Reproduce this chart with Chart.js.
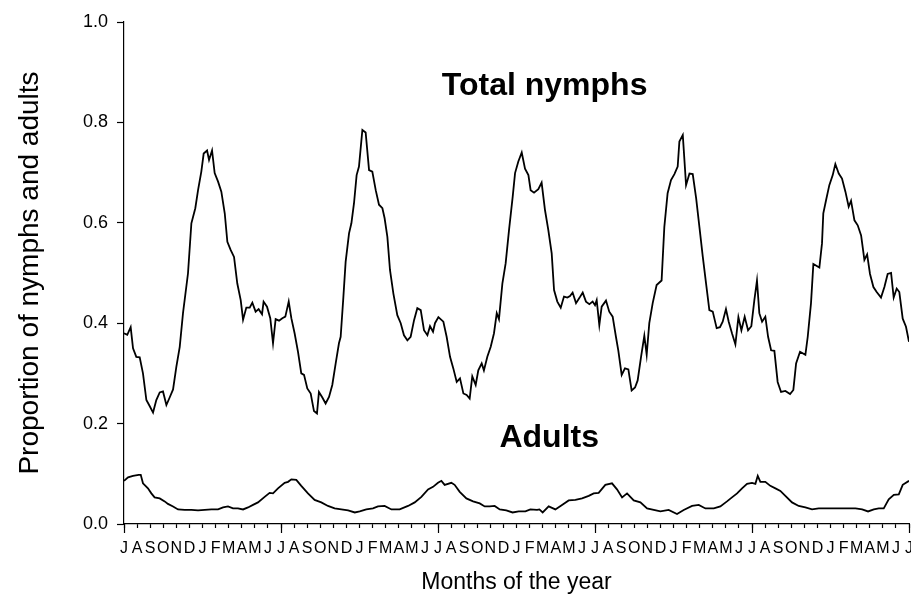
<!DOCTYPE html>
<html>
<head>
<meta charset="utf-8">
<script src="https://cdn.jsdelivr.net/npm/chart.js@4.4.1/dist/chart.umd.min.js"></script>
<style>
  html, body { margin: 0; padding: 0; background: #fff; }
  #wrap { width: 911px; height: 608px; }
</style>
</head>
<body>
<div id="wrap"><canvas id="myChart" width="911" height="608"></canvas></div>
<script>
// month labels along the x axis (July to July, 5 years)
const monthLabels = ['J','A','S','O','N','D','J','F','M','A','M','J',
                     'J','A','S','O','N','D','J','F','M','A','M','J',
                     'J','A','S','O','N','D','J','F','M','A','M','J',
                     'J','A','S','O','N','D','J','F','M','A','M','J',
                     'J','A','S','O','N','D','J','F','M','A','M','J','J'];
const yTicks = [0, 0.2, 0.4, 0.6, 0.8, 1.0];

// total nymphs (months since first July, proportion)
const nymphMonth = [0,0.25,0.51,0.69,0.94,1.2,1.45,1.71,1.96,2.22,2.47,2.73,2.98,3.24,3.49,3.75,4,4.26,4.51,4.89,
  5.15,5.45,5.66,5.91,6.09,6.35,6.5,6.73,6.93,7.19,7.44,7.7,7.9,8.15,8.41,8.66,8.92,9.1,9.35,9.61,
  9.81,10.06,10.29,10.55,10.67,10.93,11.18,11.39,11.59,11.85,12.1,12.33,12.59,12.79,13.04,13.3,13.55,13.76,14.01,14.27,
  14.52,14.75,14.9,15.16,15.41,15.67,15.92,16.18,16.43,16.56,16.77,16.94,17.2,17.38,17.58,17.78,17.96,18.22,18.47,18.73,
  18.98,19.24,19.49,19.75,19.92,20.13,20.33,20.59,20.89,21.15,21.4,21.66,21.91,22.17,22.42,22.68,22.93,23.19,23.39,23.62,
  23.77,24.03,24.41,24.66,24.92,25.17,25.43,25.68,25.94,26.19,26.42,26.62,26.88,27.08,27.34,27.51,27.77,28.03,28.28,28.49,
  28.66,28.92,29.17,29.43,29.71,29.89,30.14,30.4,30.65,30.91,31.08,31.34,31.67,31.92,32.18,32.43,32.69,32.87,33.12,33.38,
  33.63,33.89,34.09,34.29,34.55,34.8,35.06,35.31,35.57,35.82,36,36.13,36.33,36.51,36.84,37.09,37.35,37.6,37.78,38.04,
  38.29,38.55,38.8,39.06,39.26,39.52,39.77,39.95,40.15,40.41,40.71,41.09,41.3,41.55,41.81,42.07,42.32,42.45,42.71,42.96,
  43.22,43.47,43.73,43.98,44.24,44.49,44.74,45,45.3,45.55,45.76,46.01,46.22,46.47,46.73,46.96,47.19,47.44,47.7,47.95,
  48.18,48.38,48.56,48.77,49.02,49.23,49.46,49.71,49.96,50.22,50.55,50.91,51.16,51.37,51.67,52.08,52.26,52.51,52.69,53.15,
  53.35,53.45,53.66,53.91,54.17,54.37,54.63,54.88,55.14,55.39,55.57,55.83,56.08,56.34,56.59,56.8,57.02,57.28,57.53,57.86,
  58.12,58.37,58.63,58.83,59.06,59.26,59.52,59.77,60];
const nymphValue = [.380,.377,.392,.350,.333,.332,.300,.247,.235,.222,.247,.262,.264,.237,.252,.268,.313,.353,.420,.499,
  .599,.629,.665,.702,.738,.744,.725,.744,.699,.682,.662,.619,.562,.546,.532,.479,.446,.407,.431,.431,
  .441,.423,.428,.418,.443,.433,.410,.360,.408,.405,.410,.413,.443,.410,.380,.343,.300,.297,.270,.260,
  .225,.220,.263,.252,.240,.253,.277,.320,.360,.373,.453,.522,.579,.599,.639,.695,.712,.785,.780,.705,
  .702,.665,.636,.629,.609,.572,.506,.459,.416,.400,.376,.366,.373,.406,.430,.426,.386,.376,.394,.383,
  .400,.412,.403,.373,.333,.310,.283,.290,.260,.257,.250,.294,.277,.306,.320,.306,.333,.353,.380,.420,
  .408,.479,.519,.586,.652,.699,.722,.740,.708,.695,.665,.660,.667,.680,.625,.586,.539,.466,.443,.431,
  .453,.451,.454,.461,.440,.450,.461,.443,.438,.443,.436,.446,.396,.433,.445,.423,.413,.373,.346,.297,
  .310,.308,.266,.272,.286,.333,.375,.337,.400,.440,.476,.485,.592,.659,.685,.697,.712,.762,.775,.675,
  .698,.697,.649,.592,.532,.479,.426,.423,.390,.392,.403,.428,.403,.380,.358,.412,.386,.413,.386,.394,
  .446,.485,.420,.403,.413,.373,.346,.345,.283,.263,.265,.259,.267,.320,.343,.337,.373,.440,.518,.511,
  .559,.619,.645,.675,.695,.717,.698,.688,.662,.632,.644,.605,.595,.575,.526,.537,.498,.472,.462,.451,
  .472,.498,.500,.451,.469,.462,.409,.393,.363];

// adults
const adultMonth = [0,0.31,0.69,1.12,1.28,1.45,1.83,2.09,2.34,2.73,3.11,3.36,3.75,4.13,4.64,5.15,5.66,6.17,6.68,7.19,
  7.57,7.95,8.33,8.71,9.1,9.48,9.86,10.24,10.75,11.13,11.39,11.77,12.28,12.54,12.79,13.17,13.55,14.06,14.57,15.08,
  15.59,16.1,16.61,17.13,17.64,18.02,18.52,19.03,19.41,19.92,20.44,21.07,21.71,22.22,22.73,23.24,23.62,24,24.26,24.51,
  25.02,25.27,25.66,26.17,26.68,27.19,27.57,27.95,28.33,28.72,29.22,29.7,30.17,30.68,31.06,31.57,31.75,32,32.46,32.97,
  33.48,33.99,34.5,35.01,35.52,35.9,36.28,36.79,37.3,37.68,38.07,38.45,38.96,39.47,39.98,40.49,41,41.63,42.27,42.78,
  43.42,43.93,44.44,45.08,45.58,46.09,46.47,46.86,47.24,47.62,48,48.26,48.44,48.64,49.02,49.4,49.79,50.17,50.55,51.06,
  51.57,52.08,52.59,53.1,53.74,54.25,54.76,55.4,55.91,56.42,56.87,57.31,57.69,58.07,58.45,58.84,59.22,59.52,60];
const adultValue = [.086,.093,.096,.098,.098,.081,.071,.061,.053,.051,.045,.040,.035,.029,.028,.028,.027,.028,.029,.029,
  .033,.035,.031,.031,.029,.033,.038,.043,.054,.062,.061,.071,.082,.084,.089,.088,.076,.061,.048,.043,
  .036,.031,.029,.027,.023,.025,.029,.031,.035,.036,.029,.029,.036,.043,.054,.069,.074,.082,.086,.078,
  .082,.078,.064,.051,.045,.041,.035,.035,.036,.029,.027,.023,.025,.025,.029,.028,.029,.023,.035,.029,
  .038,.047,.048,.051,.056,.061,.062,.078,.081,.069,.053,.061,.047,.043,.031,.028,.025,.028,.020,.028,
  .036,.038,.031,.031,.035,.045,.053,.061,.071,.080,.082,.080,.096,.084,.084,.076,.071,.066,.056,.043,
  .036,.033,.029,.031,.031,.031,.031,.031,.031,.029,.025,.029,.031,.031,.049,.058,.059,.078,.086];

const seriesNames = ['Total nymphs', 'Adults'];
// where the series names sit, in data units
const nameAt = [[32.15, 0.872], [32.5, 0.171]];
const majorTicks = [0, 12, 24, 36, 48, 60];

function pts(xs, ys) {
    var out = [];
    for (var i = 0; i < xs.length; i++) out.push({x: xs[i], y: ys[i]});
    return out;
}

const fontFam = "'Liberation Sans', Arial, Helvetica, sans-serif";

const extras = {
    id: 'extras',
    afterDraw(chart) {
        const ctx = chart.ctx;
        const xs = chart.scales.x, ys = chart.scales.y;
        ctx.save();
        ctx.strokeStyle = '#000';
        ctx.lineWidth = 1.2;
        majorTicks.forEach(function (m) {
            var px = Math.round(xs.getPixelForValue(m)) + 0.5;
            ctx.beginPath();
            ctx.moveTo(px, ys.bottom);
            ctx.lineTo(px, ys.bottom + 9);
            ctx.stroke();
        });
        ctx.fillStyle = '#000';
        ctx.font = "bold 32px " + fontFam;
        ctx.textAlign = 'center';
        ctx.textBaseline = 'middle';
        seriesNames.forEach(function (t, i) {
            ctx.fillText(t, xs.getPixelForValue(nameAt[i][0]), ys.getPixelForValue(nameAt[i][1]));
        });
        ctx.restore();
    }
};

const ctx = document.getElementById('myChart').getContext('2d');
const myChart = new Chart(ctx, {
    type: 'line',
    data: {
        datasets: [{
            label: seriesNames[0],
            data: pts(nymphMonth, nymphValue),
            borderColor: '#000',
            borderWidth: 1.8,
            pointRadius: 0,
            tension: 0
        }, {
            label: seriesNames[1],
            data: pts(adultMonth, adultValue),
            borderColor: '#000',
            borderWidth: 1.8,
            pointRadius: 0,
            tension: 0
        }]
    },
    options: {
        responsive: false,
        animation: false,
        layout: { padding: { top: 22, right: 2, left: 0, bottom: 0 } },
        plugins: { legend: { display: false }, tooltip: { enabled: false } },
        scales: {
            x: {
                type: 'linear',
                min: 0,
                max: 60,
                afterFit(scale) { scale.height = 84; scale.paddingLeft = 0; scale.paddingRight = 0; },
                border: { display: true, color: '#000', width: 1.2 },
                grid: { drawOnChartArea: false, color: '#000', tickLength: 4, tickWidth: 1.2 },
                ticks: {
                    stepSize: 1,
                    autoSkip: false,
                    maxRotation: 0,
                    minRotation: 0,
                    padding: 11,
                    color: '#000',
                    font: { family: fontFam, size: 16 },
                    callback: function (v) { return monthLabels[v]; }
                },
                title: {
                    display: true,
                    text: 'Months of the year',
                    color: '#000',
                    font: { family: fontFam, size: 23 },
                    padding: { top: 0, bottom: 12 }
                }
            },
            y: {
                min: 0,
                max: 1,
                afterFit(scale) { scale.width = 124; },
                afterBuildTicks(scale) { scale.ticks = yTicks.map(function (v) { return {value: v}; }); },
                border: { display: true, color: '#000', width: 1.2 },
                grid: { drawOnChartArea: false, color: '#000', tickLength: 7, tickWidth: 1.2 },
                ticks: {
                    padding: 9,
                    color: '#000',
                    font: { family: fontFam, size: 18 },
                    callback: function (v) { return v.toFixed(1); }
                },
                title: {
                    display: true,
                    text: 'Proportion of nymphs and adults',
                    color: '#000',
                    font: { family: fontFam, size: 28 },
                    padding: { top: 13, bottom: 0 }
                }
            }
        }
    },
    plugins: [extras]
});
</script>
</body>
</html>
